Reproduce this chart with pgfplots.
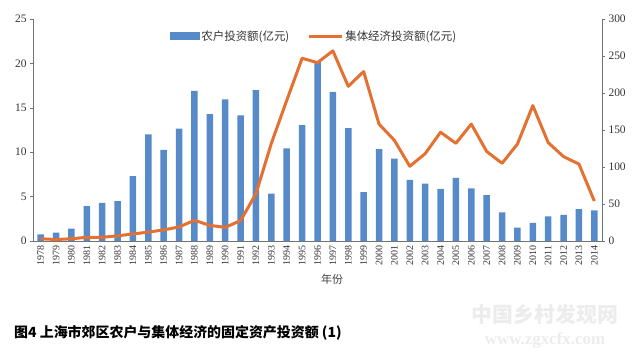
\documentclass[border=0pt]{standalone}
\usepackage{pgfplots}
\pgfplotsset{compat=1.18}
\usepackage{pgfplotstable}
\usepackage{fontspec}
\setmainfont{Liberation Serif}
\newfontfamily\cjk{Noto Sans CJK SC}
\definecolor{barblue}{RGB}{86,138,200}
\definecolor{lineorange}{RGB}{228,112,50}
\pgfplotstableread{
x farm coll
0 0.75 3
1 0.93 2
2 1.4 3
3 3.94 5
4 4.3 5
5 4.5 7
6 7.3 9.5
7 12.0 12
8 10.25 15
9 12.65 19
10 16.9 28
11 14.3 21
12 15.95 18.5
13 14.15 27.5
14 17.0 64
15 5.33 132
16 10.44 190
17 13.06 247
18 20.2 241
19 16.8 257
20 12.7 209
21 5.5 229
22 10.36 158
23 9.27 136
24 6.87 101
25 6.45 118
26 5.86 147
27 7.1 132
28 5.93 158
29 5.18 121
30 3.23 105
31 1.5 131
32 2.03 183
33 2.78 133
34 2.93 114
35 3.6 104
36 3.46 54
}\data
\begin{document}
\begin{tikzpicture}
\path[use as bounding box] (0,0) rectangle (637bp,357bp);
\begin{axis}[
  at={(33bp,116bp)}, anchor=south west,
  scale only axis, width=569bp, height=222bp,
  xmin=-0.5, xmax=36.5, ymin=0, ymax=25,
  enlargelimits=false,
  axis x line*=bottom, axis y line*=left,
  axis line style={black!55, line width=0.6bp},
  ytick={0,5,...,25},
  tick align=outside, major tick length=3bp,
  major x tick style={draw=none},
  ytick style={black!55},
  xtick={0,...,36},
  xticklabels={1978,1979,1980,1981,1982,1983,1984,1985,1986,1987,1988,1989,1990,1991,1992,1993,1994,1995,1996,1997,1998,1999,2000,2001,2002,2003,2004,2005,2006,2007,2008,2009,2010,2011,2012,2013,2014},
  x tick label style={rotate=90, anchor=east, inner sep=1.5bp, font=\fontsize{10}{12}\selectfont},
  y tick label style={font=\fontsize{11.5}{13}\selectfont},
  tick label style={text=black!80},
  /pgf/number format/assume math mode=true,
  ybar, bar width=6.5bp,
]
\addplot[fill=barblue, draw=none] table[x=x, y=farm]{\data};
\end{axis}
\begin{axis}[
  at={(33bp,116bp)}, anchor=south west,
  scale only axis, width=569bp, height=222bp,
  xmin=-0.5, xmax=36.5, ymin=0, ymax=300,
  enlargelimits=false,
  axis x line=none, axis y line*=right,
  axis line style={black!55, line width=0.6bp},
  ytick={0,50,...,300},
  tick align=outside, major tick length=3bp,
  ytick style={black!55},
  y tick label style={font=\fontsize{11.5}{13}\selectfont, text=black!80},
  /pgf/number format/assume math mode=true,
  legend columns=2,
  legend style={at={(0.494,0.923)}, anchor=center, draw=none, fill=none,
    font=\cjk\fontsize{11.5}{13}\selectfont, text=black!80,
    /tikz/every even column/.append style={column sep=16bp}},
]
\addlegendimage{legend image code/.code={\fill[barblue] (0bp,-3.5bp) rectangle (29bp,3.5bp);}}
\addlegendentry{农户投资额(亿元)}
\addplot[lineorange, line width=3bp, line join=round, mark=none,
  legend image code/.code={\draw[lineorange, line width=3bp] (0bp,0bp) -- (33bp,0bp);}]
  table[x=x, y=coll]{\data};
\addlegendentry{集体经济投资额(亿元)}
\end{axis}
\node[text=black!75] at (332bp,78bp) {\cjk\fontsize{11}{13}\selectfont 年份};
\node[anchor=west, inner sep=0pt] at (14bp,24bp) {\cjk\bfseries\fontsize{14}{16}\selectfont 图4 上海市郊区农户与集体经济的固定资产投资额 (1)};
\node[text=gray!15] at (545bp,43bp) {\cjk\bfseries\fontsize{21}{24}\selectfont 中国乡村发现网};
\node[text=gray!15] at (545bp,17bp) {\bfseries\fontsize{17}{20}\selectfont www.zgxcfx.com};
\end{tikzpicture}
\end{document}
